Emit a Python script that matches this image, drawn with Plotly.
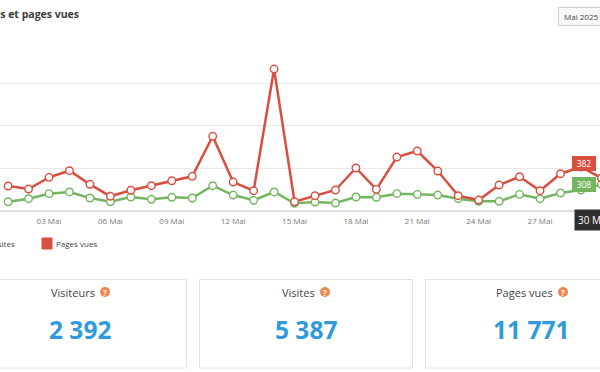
import plotly.graph_objects as go

days = [f"{d:02d} Mai" for d in range(1, 31)]
visites = [103, 139, 198, 218, 147, 103, 159, 132, 155, 147, 292, 182, 120, 218, 85,
           100, 88, 159, 155, 198, 190, 182, 139, 108, 108, 190, 139, 206, 241, 308]
pages_vues = [288, 253, 390, 468, 308, 167, 238, 292, 350, 402, 873, 335, 233, 1664, 103,
              174, 241, 500, 249, 629, 700, 465, 174, 123, 300, 397, 233, 433, 512, 382]
tick_labels = ["03 Mai", "06 Mai", "09 Mai", "12 Mai", "15 Mai", "18 Mai", "21 Mai", "24 Mai", "27 Mai"]
y_ticks = [0, 500, 1000, 1500, 2000]
cards = [("Visiteurs", "2 392"), ("Visites", "5 387"), ("Pages vues", "11 771")]

W, H = 600, 372
RED, GREEN = "#d94f3f", "#74b55f"
FONT = "Open Sans"
px = lambda x: x / W
py = lambda y: 1 - y / H

fig = go.Figure()
for name, vals, col in [("Visites", visites, GREEN), ("Pages vues", pages_vues, RED)]:
    fig.add_trace(go.Scatter(
        x=days, y=vals, name=name, mode="lines+markers",
        line=dict(color=col, width=2.5),
        marker=dict(size=7.5, color="white", line=dict(color=col, width=1.4)),
    ))

shapes, ann = [], []


def text(x, y, s, size, color, anchor="center", bold=False, **kw):
    ann.append(dict(xref="paper", yref="paper", x=px(x), y=py(y), text=f"<b>{s}</b>" if bold else s,
                    showarrow=False, xanchor=anchor, yanchor="middle",
                    font=dict(family=FONT, size=size, color=color), **kw))


def rect(x0, y0, x1, y1, line="#e6e6e6", fill="white", w=1):
    shapes.append(dict(type="rect", xref="paper", yref="paper", x0=px(x0), x1=px(x1), y0=py(y0), y1=py(y1),
                       line=dict(color=line, width=w), fillcolor=fill, layer="below"))


# Header
text(81, 14.5, "Visites et pages vues", 10.5, "#3c3c3c", anchor="right", bold=True)
rect(558.5, 7.5, 640, 25.5, line="#cfcfcf", fill="#f8f8f8")
text(562, 16.5, "Mai 2025", 8, "#444", anchor="left")

# Legend
rect(42, 238, 52, 249, line=RED, fill=RED)
text(53.5, 243.5, "Pages vues", 8, "#444", anchor="left")
text(17, 243.5, "Visites", 8, "#444", anchor="right")

# Cards
card_boxes = [(-30, 186.5), (199.5, 412.5), (425.5, 640)]
title_x = [72.5, 298.5, 524]
icon_x = [105, 325, 563]
value_x = [80, 306, 531]
for (title, value), (x0, x1), tx, ix, vx in zip(cards, card_boxes, title_x, icon_x, value_x):
    rect(x0, 279.5, x1, 368, line="#e3e3e3")
    text(tx, 292, title, 11, "#444")
    shapes.append(dict(type="circle", xref="paper", yref="paper", x0=px(ix - 5), x1=px(ix + 5),
                       y0=py(297), y1=py(287), line=dict(width=0), fillcolor="#f0874a"))
    text(ix, 292, "?", 8, "white", bold=True)
    text(vx, 329, value, 24.5, "#2f9bdc", bold=True)

# Crosshair date label and tooltips
ann.append(dict(xref="paper", yref="paper", x=px(593), y=py(220), text=days[-1], showarrow=False,
                bgcolor="#2f2f2f", font=dict(family=FONT, size=10, color="white"),
                xanchor="center", yanchor="middle", borderpad=3))
for vals, col, yshift in [(pages_vues, RED, 14.5), (visites, GREEN, 0)]:
    ann.append(dict(xref="paper", yref="y", x=px(584), y=vals[-1], text=str(vals[-1]), showarrow=False,
                    bgcolor=col, bordercolor=col, font=dict(family=FONT, size=8.5, color="white"),
                    xanchor="center", yanchor="middle", yshift=yshift, borderpad=1, width=20))

fig.update_layout(
    width=W, height=H, autosize=False, margin=dict(l=0, r=0, t=0, b=0),
    paper_bgcolor="white", plot_bgcolor="white", showlegend=False,
    shapes=shapes, annotations=ann,
    xaxis=dict(type="category", categoryorder="array", categoryarray=days,
               range=[-0.396, 28.93], tickvals=tick_labels, ticktext=tick_labels,
               showgrid=False, zeroline=False, ticks="outside", ticklen=3, tickcolor="rgba(0,0,0,0)",
               tickfont=dict(family=FONT, size=8, color="#777"), domain=[0, 1]),
    yaxis=dict(range=[0, 2000], tickvals=y_ticks, showticklabels=False, gridcolor="#e8e8e8",
               gridwidth=1, zeroline=True, zerolinecolor="#dedede", zerolinewidth=1.5,
               domain=[py(210.5), py(40.5)]),
    hovermode=False,
)
fig.write_html("out.html", config=dict(displayModeBar=False), post_script="document.body.style.margin='0';")
